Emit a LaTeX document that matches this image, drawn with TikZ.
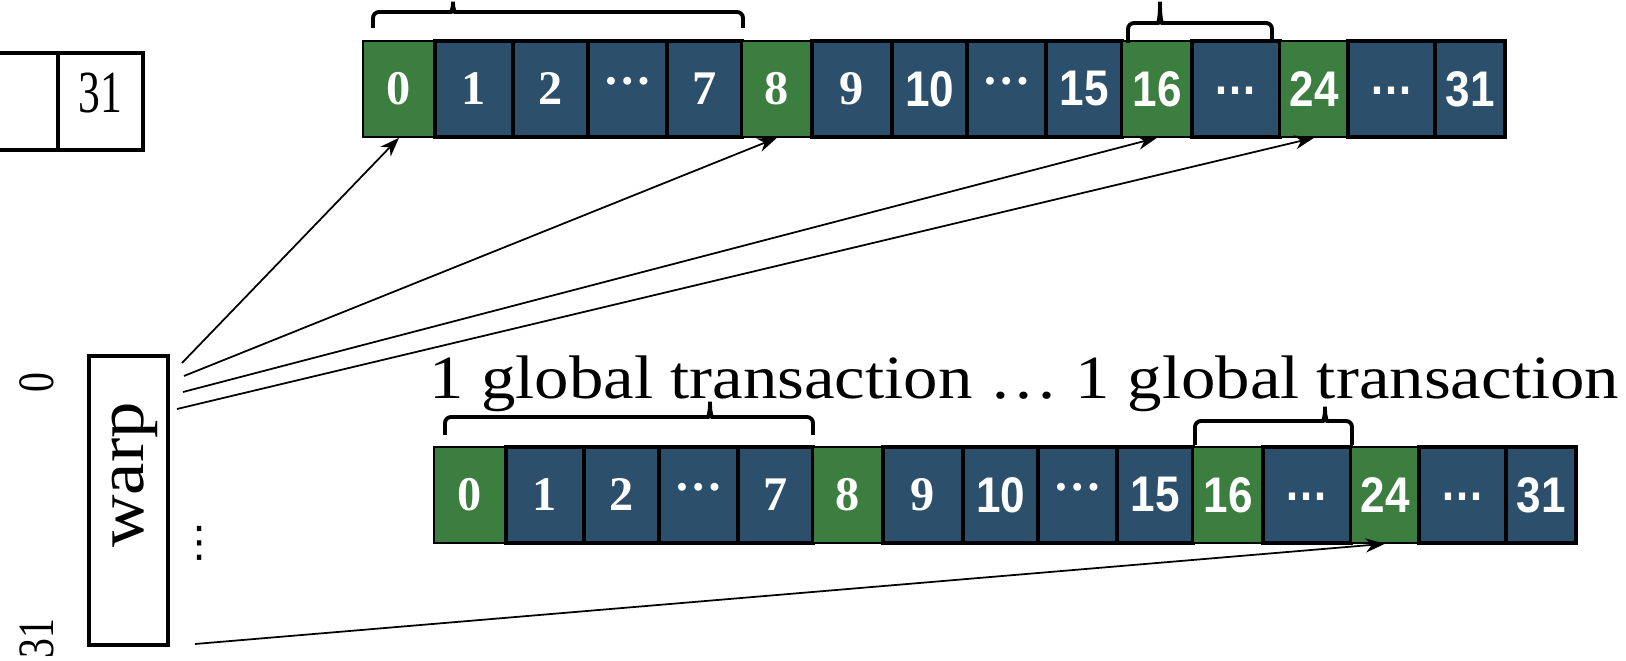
\documentclass[tikz,border=0pt]{standalone}
\usepackage{fontspec}
\setmainfont{Liberation Serif}
\newfontfamily\sanfam{Liberation Sans}
\newfontfamily\symfam{DejaVu Sans}
\usetikzlibrary{arrows.meta}
\definecolor{cellgreen}{RGB}{60,126,64}
\definecolor{cellblue}{RGB}{44,79,108}
% cell labels: serif and sans digits, and the two kinds of dots
\newcommand\ser[1]{{\fontsize{27.5}{30}\selectfont\bfseries #1}}
\newcommand\san[1]{\scalebox{0.88}[1]{\sanfam\fontsize{28.5}{32}\selectfont\bfseries #1}}
\newcommand\serdots{{\fontsize{27.5}{30}\selectfont\bfseries\vphantom{0}\raisebox{0.42em}{…}}}
\newcommand\sandots{\scalebox{0.88}[1]{\sanfam\fontsize{28.5}{32}\selectfont\bfseries\vphantom{0}\raisebox{0.23em}{…}}}
% square brace over a group of words:
% left x, right x, tip x, end y, bar y, tip y
\newcommand\grpbrace[6]{%
  \draw[grp] (#1,#4) -- (#1,#5) -- ({#3-8},#5)
    .. controls ({#3-2},#5) and (#3,{#5-4}) .. (#3,#6)
    .. controls (#3,{#5-4}) and ({#3+2},#5) .. ({#3+8},#5)
    -- (#2,#5) -- (#2,#4);}
\begin{document}
\begin{tikzpicture}[x=0.02cm, y=-0.02cm,
  cell/.style={draw=black, inner sep=0pt, minimum height=1.92cm, text=white},
  cellg/.style={cell, fill=cellgreen, line width=0.9pt},
  cellb/.style={cell, fill=cellblue, line width=2pt},
  conn/.style={line width=1pt, -{Stealth[length=11pt,width=8pt,inset=3.5pt]}},
  grp/.style={line width=2.2pt, rounded corners=0.12cm},
  lane/.style={inner sep=0pt, font=\fontsize{29}{32}\selectfont}]
\useasboundingbox (0,0) rectangle (1626,661);

% lane boxes at the top left
\draw[line width=1.8pt] (0,53) -- (143,53) -- (143,150) -- (0,150);
\draw[line width=1.8pt] (58,53) -- (58,150);
\node[inner sep=0pt, anchor=base] (lane31) at (100,113)
  {\scalebox{0.73}[1]{\fontsize{34}{36}\selectfont 31}};

% the warp and its thread indices
\node[draw, line width=2.3pt, minimum width=1.58cm, minimum height=5.78cm, inner sep=0pt]
  (warp) at (128.5,500.5) {};
\node[rotate=90, anchor=base, inner sep=0pt] (warplabel) at (143,475)
  {\scalebox{1.09}[1]{\fontsize{38}{40}\selectfont warp}};
\node[lane, rotate=90, anchor=base] (tid0) at (53,383) {\scalebox{0.78}[1]{0}};
\node[lane, rotate=90, anchor=base] (tid31) at (53,639) {\scalebox{0.78}[1]{31}};
\node[inner sep=0pt] (tdots) at (200,543) {\symfam\fontsize{24}{26}\selectfont ⋮};

% two rows of memory words
\foreach \row/\dx/\yc in {t/0/89, b/71/495}{
  \foreach \lab/\l/\r/\c/\nm in {
    {\ser{0}}/363/435/g/0, {\ser{1}}/435/513/b/1, {\ser{2}}/513/588/b/2,
    {\serdots}/588/667/b/da, {\ser{7}}/667/742/b/7, {\ser{8}}/742/812/g/8,
    {\ser{9}}/812/892/b/9, {\san{10}}/892/967/b/10, {\serdots}/967/1046/b/db,
    {\san{15}}/1046/1122/b/15, {\san{16}}/1122/1192/g/16, {\sandots}/1192/1280/b/dc,
    {\san{24}}/1280/1348/g/24, {\sandots}/1348/1435/b/dd, {\san{31}}/1435/1505/b/31}{
    \node[cell\c, minimum width={(\r-\l)*0.02cm}] (\row\nm) at ({(\l+\r)/2+\dx},\yc) {\lab};
  }
}

% transactions
\grpbrace{373}{743}{453}{28}{12}{-2}
\grpbrace{1128}{1272}{1160}{43}{23}{-2}
\grpbrace{445}{813}{710}{435}{417}{398}
\grpbrace{1195}{1352}{1325}{445}{421}{403}
\node[inner sep=0pt, anchor=base west] (txn) at (429,399)
  {\scalebox{1.12}[1]{\fontsize{35}{38}\selectfont 1 global transaction … 1 global transaction}};

% thread accesses
\coordinate (s0a) at (182,363);
\coordinate (s0b) at (184,376);
\coordinate (s0c) at (183,392);
\coordinate (s0d) at (177,409);
\coordinate (s31) at (195,644);
\draw[conn] (s0a) -- (t0.south);
\draw[conn] (s0b) -- (t8.south);
\draw[conn] (s0c) -- (t16.south);
\draw[conn] (s0d) -- (t24.south);
\draw[conn] (s31) -- (b24.south);
\end{tikzpicture}
\end{document}
